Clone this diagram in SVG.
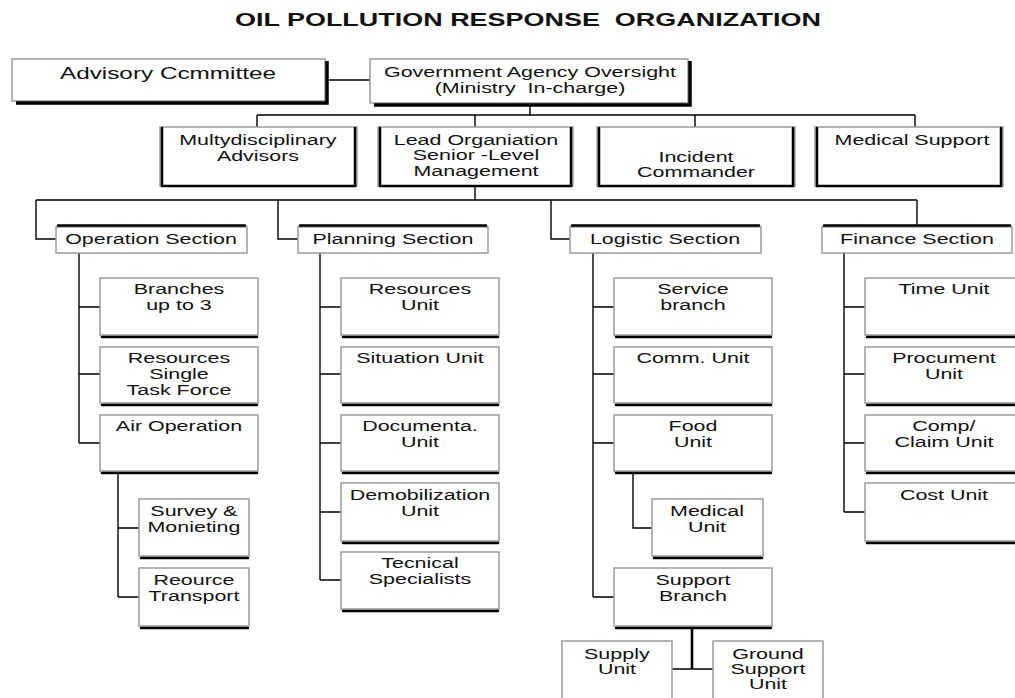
<svg xmlns="http://www.w3.org/2000/svg" width="1015" height="698" viewBox="0 0 1015 698">
  <style>
    text { font-family: "Liberation Sans", Arial, sans-serif; font-size: 15px; fill: #111; text-anchor: middle;
           transform-box: fill-box; transform-origin: center; transform: scaleX(1.43); }
    .title { font-weight: bold; font-size: 17.5px; transform: scaleX(1.54); }
    .big { font-size: 16px; transform: scaleX(1.52); }
    .box { fill: #fff; stroke: #9a9a9a; stroke-width: 1.5; }
    .sh { stroke: #000; stroke-width: 2.5; stroke-linecap: round; fill: none; }
    .sh3 { stroke: #000; stroke-width: 3.5; fill: none; }
    .ln { stroke: #000; stroke-width: 1.4; fill: none; }
    .thick { stroke: #000; stroke-width: 2.6; fill: none; }
  </style>

  <text class="title" x="528" y="26">OIL POLLUTION RESPONSE&#160; ORGANIZATION</text>

  <!-- connectors -->
  <g id="connectors">
    <path class="ln" d="M329,80 H370"/>
    <path class="ln" d="M530,105 V115 M257,115 H915 M257,115 V127 M475,115 V127 M695,115 V127 M915,115 V127"/>
    <path class="ln" d="M475,187 V200 M36,200 H917 M36,200 V239 H56 M278,200 V239 H298 M551,200 V239 H570 M917,200 V225"/>
    <!-- operation -->
    <path class="ln" d="M79,253 V443 M79,307 H100 M79,374 H100 M79,443 H100"/>
    <path class="ln" d="M118,473 V597 M118,528 H139 M118,597 H139"/>
    <!-- planning -->
    <path class="ln" d="M320,253 V580 M320,307 H341 M320,374 H341 M320,443 H341 M320,512 H341 M320,580 H341"/>
    <!-- logistic -->
    <path class="ln" d="M593,253 V597 M593,307 H614 M593,374 H614 M593,443 H614 M593,597 H614"/>
    <path class="ln" d="M633,473 V528 H652"/>
    <path class="thick" d="M692,628 V669"/>
    <path class="ln" d="M672,669 H713"/>
    <!-- finance -->
    <path class="ln" d="M844,253 V512 M844,307 H865 M844,374 H865 M844,443 H865 M844,512 H865"/>
  </g>

  <!-- top level -->
  <g id="advisory">
    <rect class="box" x="12" y="59" width="313" height="42"/>
    <path class="sh3" d="M327,61 V103 H16"/>
    <text class="big" x="168" y="79">Advisory Ccmmittee</text>
  </g>
  <g id="government">
    <rect class="box" x="370" y="59" width="318" height="44"/>
    <path class="sh3" d="M690,61 V105 H374"/>
    <text x="530" y="77">Government Agency Oversight</text>
    <text x="530" y="93">(Ministry&#160; In-charge)</text>
  </g>

  <!-- second row -->
  <g id="multidisciplinary">
    <rect class="box" x="160" y="127" width="197" height="59"/>
    <path class="sh" d="M162,128 V186 H355 V128"/>
    <text x="258" y="145">Multydisciplinary</text>
    <text x="258" y="161">Advisors</text>
  </g>
  <g id="lead">
    <rect class="box" x="378" y="127" width="195" height="59"/>
    <path class="sh" d="M380,128 V186 H571 V128"/>
    <text x="476" y="145">Lead Organiation</text>
    <text x="476" y="160">Senior -Level</text>
    <text x="476" y="176">Management</text>
  </g>
  <g id="incident">
    <rect class="box" x="597" y="127" width="198" height="59"/>
    <path class="sh" d="M599,128 V186 H793 V128"/>
    <text x="696" y="162">Incident</text>
    <text x="696" y="177">Commander</text>
  </g>
  <g id="medical-support">
    <rect class="box" x="815" y="127" width="188" height="59"/>
    <path class="sh" d="M817,128 V186 H1001 V128"/>
    <text x="912" y="145">Medical Support</text>
  </g>

  <!-- sections -->
  <g id="operation">
    <rect class="box" x="56" y="227" width="191" height="26"/>
    <path class="sh" d="M58,225.5 H245"/>
    <text x="151" y="244">Operation Section</text>
  </g>
  <g id="planning">
    <rect class="box" x="298" y="227" width="190" height="26"/>
    <path class="sh" d="M300,225.5 H486"/>
    <text x="393" y="244">Planning Section</text>
  </g>
  <g id="logistic">
    <rect class="box" x="570" y="227" width="191" height="26"/>
    <path class="sh" d="M572,225.5 H759"/>
    <text x="665" y="244">Logistic Section</text>
  </g>
  <g id="finance">
    <rect class="box" x="822" y="227" width="190" height="26"/>
    <path class="sh" d="M824,225.5 H1010"/>
    <text x="917" y="244">Finance Section</text>
  </g>

  <!-- operation units -->
  <g id="branches">
    <rect class="box" x="100" y="278" width="158" height="57"/>
    <path class="sh" d="M102,337 H257"/>
    <text x="179" y="294">Branches</text>
    <text x="179" y="310">up to 3</text>
  </g>
  <g id="resources-single">
    <rect class="box" x="100" y="347" width="158" height="56"/>
    <path class="sh" d="M102,405 H257"/>
    <text x="179" y="363">Resources</text>
    <text x="179" y="379">Single</text>
    <text x="179" y="395">Task Force</text>
  </g>
  <g id="air-operation">
    <rect class="box" x="100" y="415" width="158" height="56"/>
    <path class="sh" d="M102,473 H257"/>
    <text x="179" y="431">Air Operation</text>
  </g>
  <g id="survey">
    <rect class="box" x="139" y="499" width="110" height="57"/>
    <path class="sh" d="M141,558 H248"/>
    <text x="194" y="516">Survey &amp;</text>
    <text x="194" y="532">Monieting</text>
  </g>
  <g id="resource-transport">
    <rect class="box" x="139" y="568" width="110" height="58"/>
    <path class="sh" d="M141,628 H248"/>
    <text x="194" y="585">Reource</text>
    <text x="194" y="601">Transport</text>
  </g>

  <!-- planning units -->
  <g id="resources-unit">
    <rect class="box" x="341" y="278" width="158" height="57"/>
    <path class="sh" d="M343,337 H498"/>
    <text x="420" y="294">Resources</text>
    <text x="420" y="310">Unit</text>
  </g>
  <g id="situation-unit">
    <rect class="box" x="341" y="347" width="158" height="56"/>
    <path class="sh" d="M343,405 H498"/>
    <text x="420" y="363">Situation Unit</text>
  </g>
  <g id="documentation-unit">
    <rect class="box" x="341" y="415" width="158" height="56"/>
    <path class="sh" d="M343,473 H498"/>
    <text x="420" y="431">Documenta.</text>
    <text x="420" y="447">Unit</text>
  </g>
  <g id="demobilization-unit">
    <rect class="box" x="341" y="483" width="158" height="58"/>
    <path class="sh" d="M343,543 H498"/>
    <text x="420" y="500">Demobilization</text>
    <text x="420" y="516">Unit</text>
  </g>
  <g id="technical-specialists">
    <rect class="box" x="341" y="552" width="158" height="57"/>
    <path class="sh" d="M343,611 H498"/>
    <text x="420" y="568">Tecnical</text>
    <text x="420" y="584">Specialists</text>
  </g>

  <!-- logistic units -->
  <g id="service-branch">
    <rect class="box" x="614" y="278" width="158" height="57"/>
    <path class="sh" d="M616,337 H771"/>
    <text x="693" y="294">Service</text>
    <text x="693" y="310">branch</text>
  </g>
  <g id="comm-unit">
    <rect class="box" x="614" y="347" width="158" height="56"/>
    <path class="sh" d="M616,405 H771"/>
    <text x="693" y="363">Comm. Unit</text>
  </g>
  <g id="food-unit">
    <rect class="box" x="614" y="415" width="158" height="56"/>
    <path class="sh" d="M616,473 H771"/>
    <text x="693" y="431">Food</text>
    <text x="693" y="447">Unit</text>
  </g>
  <g id="medical-unit">
    <rect class="box" x="652" y="499" width="111" height="57"/>
    <path class="sh" d="M654,558 H762"/>
    <text x="707" y="516">Medical</text>
    <text x="707" y="532">Unit</text>
  </g>
  <g id="support-branch">
    <rect class="box" x="614" y="568" width="158" height="58"/>
    <path class="sh" d="M616,628 H771"/>
    <text x="693" y="585">Support</text>
    <text x="693" y="601">Branch</text>
  </g>
  <g id="supply-unit">
    <rect class="box" x="562" y="641" width="110" height="70"/>
    <text x="617" y="659">Supply</text>
    <text x="617" y="674">Unit</text>
  </g>
  <g id="ground-support-unit">
    <rect class="box" x="713" y="641" width="110" height="70"/>
    <text x="768" y="659">Ground</text>
    <text x="768" y="674">Support</text>
    <text x="768" y="689">Unit</text>
  </g>

  <!-- finance units -->
  <g id="time-unit">
    <rect class="box" x="865" y="278" width="158" height="57"/>
    <path class="sh" d="M867,337 H1022"/>
    <text x="944" y="294">Time Unit</text>
  </g>
  <g id="procurement-unit">
    <rect class="box" x="865" y="347" width="158" height="56"/>
    <path class="sh" d="M867,405 H1022"/>
    <text x="944" y="363">Procument</text>
    <text x="944" y="379">Unit</text>
  </g>
  <g id="claim-unit">
    <rect class="box" x="865" y="415" width="158" height="56"/>
    <path class="sh" d="M867,473 H1022"/>
    <text x="944" y="431">Comp/</text>
    <text x="944" y="447">Claim Unit</text>
  </g>
  <g id="cost-unit">
    <rect class="box" x="865" y="483" width="158" height="58"/>
    <path class="sh" d="M867,543 H1022"/>
    <text x="944" y="500">Cost Unit</text>
  </g>
</svg>
